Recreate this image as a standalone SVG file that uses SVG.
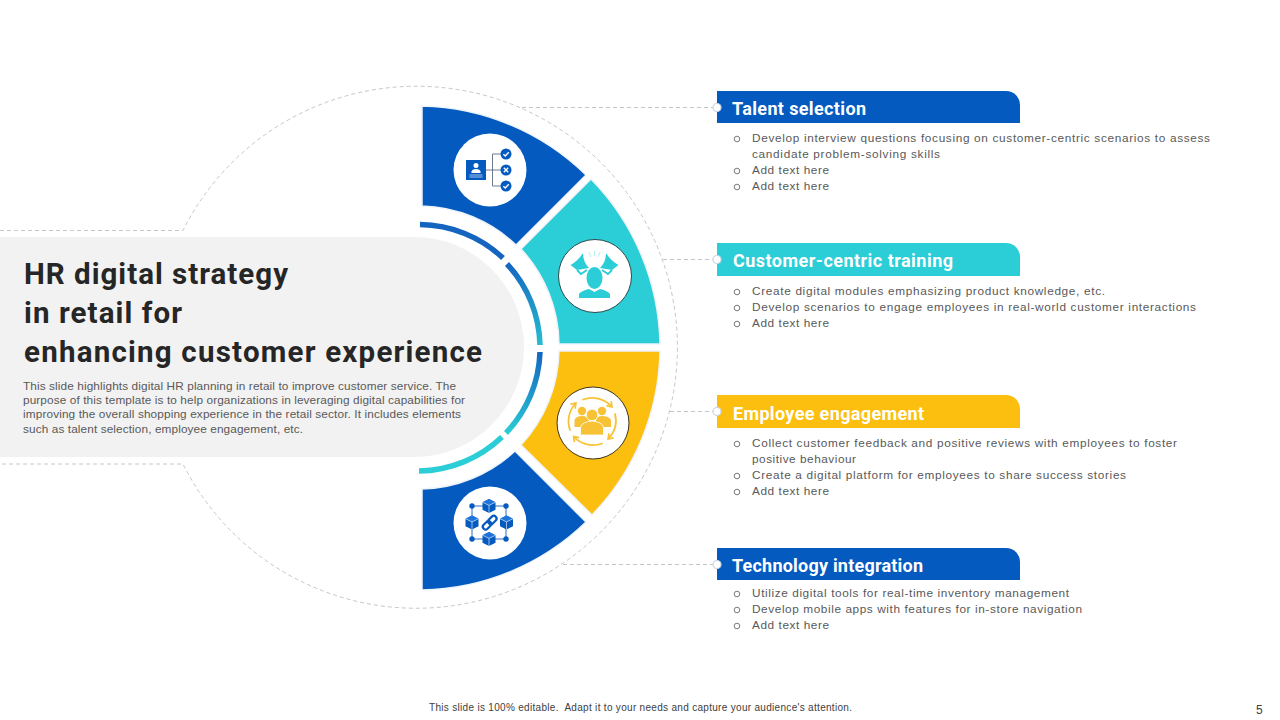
<svg xmlns="http://www.w3.org/2000/svg" width="1280" height="720" viewBox="0 0 1280 720">
<style>
.dash{fill:none;stroke:#c6c6c6;stroke-width:1;stroke-dasharray:4 3}
.seg{stroke:#eef4fa;stroke-width:1.5}
.ring{fill:none;stroke-width:5.5}
.disc{fill:#fff}
.t{font-family:"Roboto","Liberation Sans",sans-serif;font-weight:700;fill:#262626;font-size:29.5px}
.d{font-family:"Liberation Sans",Arial,sans-serif;font-size:11.8px;fill:#595959}
.b{font-family:"Liberation Sans",Arial,sans-serif;font-size:11.8px;fill:#595959}
.h{font-family:"Roboto","Liberation Sans",sans-serif;font-weight:700;font-size:18px;fill:#fff}
.o{fill:none;stroke:#6a6a6a;stroke-width:.9}
.dot{fill:#fff;stroke:#c9d6e4;stroke-width:1.2}
.f{font-family:"Liberation Sans",Arial,sans-serif;font-size:10px;fill:#404040}
.blue{fill:#045abf}.teal{fill:#2bcdd6}.yel{fill:#fdbf0f}
.yi{fill:none;stroke:#f7c235;stroke-width:1.8;stroke-linecap:round;marker-end:url(#ah)}
.yf{fill:#f7c235}
</style>
<defs>
<linearGradient id="g2" gradientUnits="userSpaceOnUse" x1="507" y1="264" x2="540" y2="345"><stop offset="0" stop-color="#1565c0"/><stop offset="1" stop-color="#25bcd0"/></linearGradient>
<linearGradient id="g3" gradientUnits="userSpaceOnUse" x1="540" y1="352" x2="506" y2="433"><stop offset="0" stop-color="#1565c0"/><stop offset="1" stop-color="#2bcdd6"/></linearGradient>
<marker id="ah" markerWidth="8" markerHeight="8" refX="5" refY="4" orient="auto" markerUnits="userSpaceOnUse"><path d="M1 .8L5.500 4L1 7.200" fill="none" stroke="#f7c235" stroke-width="1.8"/></marker>
<g id="cube">
<path d="M0-7L6.500-3.800V3.800L0 7L-6.500 3.800V-3.800Z" fill="#045abf"/>
<path d="M0-7L6.500-3.800L0-.6L-6.500-3.800Z" fill="#1f74dc"/>
<path d="M0-.6V7M-6.500-3.800L0-.6L6.500-3.800" fill="none" stroke="#fff" stroke-width=".6"/>
</g>
<path id="chk" d="M-2.600 .2L-.8 2L2.800-1.800" fill="none" stroke="#fff" stroke-width="1.4"/>
</defs>
<rect width="1280" height="720" fill="#fff"/>

<g id="connectors">
<path class="dash" d="M0 230.500H183A261 261 0 1 1 183 464H0"/>
<path class="dash" d="M522 107.500H717"/>
<path class="dash" d="M663 259.500H717"/>
<path class="dash" d="M670 411.500H717"/>
<path class="dash" d="M563 564.500H717"/>
</g>

<g id="title-panel">
<path d="M0 237H414A110 110 0 0 1 414 457H0Z" fill="#f2f2f2"/>
<text class="t" x="24" y="284" textLength="264">HR digital strategy</text>
<text class="t" x="24" y="323" textLength="158">in retail for</text>
<text class="t" x="24" y="362" textLength="458">enhancing customer experience</text>
<text class="d" x="23" y="390" textLength="433">This slide highlights digital HR planning in retail to improve customer service. The</text>
<text class="d" x="23" y="404" textLength="442">purpose of this template is to help organizations in leveraging digital capabilities for</text>
<text class="d" x="23" y="418" textLength="438">improving the overall shopping experience in the retail sector. It includes elements</text>
<text class="d" x="23" y="433" textLength="280">such as talent selection, employee engagement, etc.</text>
</g>

<g id="inner-ring">
<path class="ring" stroke="#1565c0" d="M420 224.500A123 123 0 0 1 503 258"/>
<path class="ring" stroke="url(#g2)" d="M507 264A123 123 0 0 1 540 345"/>
<path class="ring" stroke="url(#g3)" d="M540 352A123 123 0 0 1 506 433"/>
<path class="ring" stroke="#2bcdd6" d="M502 437A123 123 0 0 1 419 471"/>
</g>

<g id="segment-talent">
<path class="seg blue" d="M422 106A242 242 0 0 1 586 175L516 245A142 142 0 0 0 422 206Z"/>
<circle class="disc" cx="490" cy="170" r="36.500"/>
<rect x="466" y="160" width="20" height="20" fill="#045abf"/>
<circle cx="476" cy="165.500" r="2.500" fill="#fff"/>
<path d="M471.500 173V171.500Q472 169 476 169Q480 169 480.500 171.500V173Z" fill="#fff"/>
<path d="M469.500 175H482.500M469.500 177H482.500" stroke="#cfe0f5" stroke-width=".8"/>
<path d="M486 170H506M492.500 154V186M492.500 154H506M492.500 186H506" fill="none" stroke="#4a5a70" stroke-width=".8"/>
<circle cx="506" cy="154" r="5.500" fill="#045abf"/><use href="#chk" x="506" y="154"/>
<circle cx="506" cy="170" r="5.500" fill="#045abf"/><path d="M503.800 167.800L508.200 172.200M508.200 167.800L503.800 172.200" stroke="#fff" stroke-width="1.4"/>
<circle cx="506" cy="186" r="5.500" fill="#045abf"/><use href="#chk" x="506" y="186"/>
</g>

<g id="segment-training">
<path class="seg teal" d="M591 179A242 242 0 0 1 660 344H559A142 142 0 0 0 521 249Z"/>
<circle cx="595" cy="276" r="36.500" fill="#fff" stroke="#2f4a4d" stroke-width="1"/>
<ellipse cx="594.500" cy="278" rx="8" ry="11" fill="#2bcdd6"/>
<path d="M579 298V294Q581 291 589 289L594.500 292L600 289Q608 291 610 294V298Z" fill="#2bcdd6"/>
<path d="M583 253Q583 262 589 268L577 270L570.500 265Q578 261 583 253Z" fill="#2bcdd6"/>
<path d="M606 253Q606 262 600 268L612 270L618.500 265Q611 261 606 253Z" fill="#2bcdd6"/>
<path d="M577 270L581 274L587 270M612 270L608 274L602 270" fill="none" stroke="#2bcdd6" stroke-width="1.800"/>
<path d="M589 252L591 257M600 252L598 257M594.500 251V256" stroke="#b5eef0" stroke-width="1"/>
</g>

<g id="segment-engagement">
<path class="seg yel" d="M559 351H660A242 242 0 0 1 592 515L521 445A142 142 0 0 0 559 351Z"/>
<circle cx="593" cy="423" r="36" fill="#fff" stroke="#3d3620" stroke-width="1"/>
<circle class="yf" cx="582" cy="411" r="4.200"/><circle class="yf" cx="602" cy="411" r="4.200"/>
<path class="yf" d="M574.500 427V420Q576 416 582 416Q588 416 589 420V427Z"/>
<path class="yf" d="M596 427V420Q597 416 602 416Q609 416 611 420V427Z"/>
<circle class="yf" cx="592" cy="415" r="5.800" stroke="#fff" stroke-width=".8"/>
<path class="yf" d="M580.500 435V427Q582 422 592 421Q602 422 603.500 427V435Z" stroke="#fff" stroke-width=".8"/>
<path class="yi" d="M583 399.500A26 26 0 0 1 611.500 406.500"/>
<path class="yi" d="M615 414A26 26 0 0 1 608.500 438.500"/>
<path class="yi" d="M602 443.500A26 26 0 0 1 574 437"/>
<path class="yi" d="M570 430A26 26 0 0 1 575.500 403.500"/>
</g>

<g id="segment-technology">
<path class="seg blue" d="M422 489A142 142 0 0 0 515 451L586 522A242 242 0 0 1 422 590Z"/>
<circle class="disc" cx="490" cy="523" r="36.500"/>
<path d="M472 506H506V539H472Z" fill="none" stroke="#2a6fc4" stroke-width="1"/>
<circle cx="472" cy="506" r="2.700" fill="#045abf"/><circle cx="506" cy="506" r="2.700" fill="#045abf"/><circle cx="472" cy="539" r="2.700" fill="#045abf"/><circle cx="506" cy="539" r="2.700" fill="#045abf"/>
<use href="#cube" x="489" y="506"/><use href="#cube" x="472" y="522.500"/><use href="#cube" x="506.500" y="522.500"/><use href="#cube" x="489" y="539"/>
<g transform="rotate(-45 489.500 522.500)" fill="none" stroke="#045abf" stroke-width="2.200">
<rect x="481" y="520" width="9.500" height="5.500" rx="2.700"/><rect x="488.500" y="520" width="9.500" height="5.500" rx="2.700"/>
</g>
</g>

<g id="node-talent">
<path class="blue" d="M717 91H1006A14 14 0 0 1 1020 105V123H717Z"/>
<circle class="dot" cx="717" cy="107.500" r="4"/>
<text class="h" x="732" y="115" textLength="134">Talent selection</text>
<circle class="o" cx="737" cy="139" r="2.800"/><text class="b" x="752" y="142" textLength="458">Develop interview questions focusing on customer-centric scenarios to assess</text>
<text class="b" x="752" y="158" textLength="188">candidate problem-solving skills</text>
<circle class="o" cx="737" cy="171" r="2.800"/><text class="b" x="752" y="174" textLength="77">Add text here</text>
<circle class="o" cx="737" cy="187" r="2.800"/><text class="b" x="752" y="190" textLength="77">Add text here</text>
</g>

<g id="node-training">
<path class="teal" d="M717 243H1006A14 14 0 0 1 1020 257V276H717Z"/>
<circle class="dot" cx="717" cy="259.500" r="4"/>
<text class="h" x="733" y="267" textLength="220">Customer-centric training</text>
<circle class="o" cx="737" cy="292" r="2.800"/><text class="b" x="752" y="295" textLength="353">Create digital modules emphasizing product knowledge, etc.</text>
<circle class="o" cx="737" cy="308" r="2.800"/><text class="b" x="752" y="311" textLength="444">Develop scenarios to engage employees in real-world customer interactions</text>
<circle class="o" cx="737" cy="324" r="2.800"/><text class="b" x="752" y="327" textLength="77">Add text here</text>
</g>

<g id="node-engagement">
<path class="yel" d="M717 395H1006A14 14 0 0 1 1020 409V428H717Z"/>
<circle class="dot" cx="717" cy="411.500" r="4"/>
<text class="h" x="733" y="420" textLength="191">Employee engagement</text>
<circle class="o" cx="737" cy="444" r="2.800"/><text class="b" x="752" y="447" textLength="425">Collect customer feedback and positive reviews with employees to foster</text>
<text class="b" x="752" y="463" textLength="104">positive behaviour</text>
<circle class="o" cx="737" cy="476" r="2.800"/><text class="b" x="752" y="479" textLength="374">Create a digital platform for employees to share success stories</text>
<circle class="o" cx="737" cy="492" r="2.800"/><text class="b" x="752" y="495" textLength="77">Add text here</text>
</g>

<g id="node-technology">
<path class="blue" d="M717 548H1006A14 14 0 0 1 1020 562V580H717Z"/>
<circle class="dot" cx="717" cy="564.500" r="4"/>
<text class="h" x="732" y="572" textLength="191">Technology integration</text>
<circle class="o" cx="737" cy="594" r="2.800"/><text class="b" x="752" y="597" textLength="317">Utilize digital tools for real-time inventory management</text>
<circle class="o" cx="737" cy="610" r="2.800"/><text class="b" x="752" y="613" textLength="330">Develop mobile apps with features for in-store navigation</text>
<circle class="o" cx="737" cy="626" r="2.800"/><text class="b" x="752" y="629" textLength="77">Add text here</text>
</g>

<text class="f" x="429" y="711" textLength="423" xml:space="preserve">This slide is 100% editable.  Adapt it to your needs and capture your audience's attention.</text>
<text x="1256" y="714" font-family="Liberation Sans, Arial, sans-serif" font-size="12" fill="#404040">5</text>
</svg>
